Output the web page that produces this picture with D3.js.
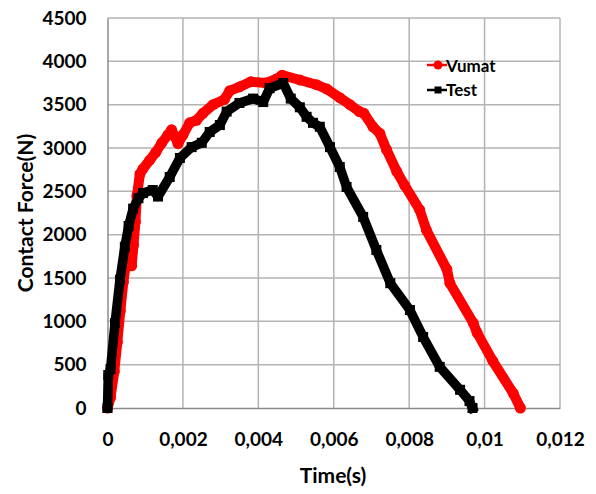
<!DOCTYPE html>
<html>
<head>
<meta charset="utf-8">
<script src="https://cdn.jsdelivr.net/npm/d3@7"></script>
<style>
  body { margin: 0; background: #fff; }
  text { font-family: Lato, "Open Sans", sans-serif; font-weight: bold; fill: #000; }
</style>
</head>
<body>
<svg width="596" height="494"></svg>
<script>
// tick values
var xTicks = [0, 0.002, 0.004, 0.006, 0.008, 0.01, 0.012];
var xTickLabels = ["0", "0,002", "0,004", "0,006", "0,008", "0,01", "0,012"];
var yTicks = [0, 500, 1000, 1500, 2000, 2500, 3000, 3500, 4000, 4500];

// Vumat series (time s, force N)
var vumatTime = [0, 0.00008, 0.00018, 0.00026, 0.00034, 0.00042, 0.0005, 0.00058, 0.00064, 0.00069,
  0.00074, 0.00078, 0.00086, 0.00094, 0.00112, 0.00128, 0.00144, 0.0016, 0.0017, 0.00187,
  0.002, 0.00218, 0.00236, 0.00253, 0.0028, 0.0031, 0.00324, 0.0035, 0.0038, 0.0042,
  0.00445, 0.00463, 0.0051, 0.00554, 0.00582, 0.00616, 0.00643, 0.00668, 0.0068, 0.00704,
  0.00722, 0.0074, 0.00767, 0.00788, 0.00828, 0.00846, 0.009, 0.00908, 0.0097, 0.0098,
  0.01022, 0.01076, 0.01095];
var vumatForce = [0, 120, 420, 760, 1120, 1450, 1700, 1680, 1640, 1880,
  2150, 2450, 2700, 2760, 2860, 2950, 3060, 3150, 3210, 3050,
  3150, 3290, 3320, 3400, 3500, 3560, 3660, 3705, 3765, 3750,
  3790, 3840, 3785, 3730, 3680, 3580, 3500, 3420, 3400, 3245,
  3170, 2980, 2730, 2570, 2285, 2050, 1600, 1440, 980, 870,
  540, 170, 0];

// Test series (time s, force N)
var testTime = [0, 0.00002, 0.00008, 0.0002, 0.00033, 0.00046, 0.00056, 0.00068, 0.00082, 0.00094, 0.0012,
  0.00134, 0.00165, 0.00192, 0.00223, 0.0025, 0.00271, 0.00298, 0.00316, 0.0035, 0.00386,
  0.00413, 0.0043, 0.00466, 0.00486, 0.0051, 0.00528, 0.00545, 0.00563, 0.0059, 0.00616,
  0.00634, 0.00678, 0.00713, 0.0075, 0.00802, 0.00837, 0.00881, 0.00935, 0.0096, 0.00968];
var testForce = [0, 380, 450, 980, 1480, 1860, 2100, 2300, 2420, 2480, 2515,
  2440, 2665, 2885, 3010, 3060, 3185, 3265, 3420, 3520, 3570,
  3530, 3690, 3750, 3570, 3470, 3360, 3290, 3245, 3010, 2780,
  2550, 2205, 1823, 1440, 1130, 820, 475, 210, 80, 0];

var svg = d3.select("svg");
var margin = {left: 107.5, right: 36, top: 18, bottom: 86};
var width = 596, height = 494;

var x = d3.scaleLinear().domain([0, 0.012]).range([margin.left, width - margin.right]);
var y = d3.scaleLinear().domain([0, 4500]).range([height - margin.bottom, margin.top]);

// gridlines
svg.append("g").selectAll("line.h")
  .data(yTicks.slice(1)).enter().append("line")
  .attr("x1", x(0)).attr("x2", x(0.012))
  .attr("y1", function (d) { return y(d); }).attr("y2", function (d) { return y(d); })
  .attr("stroke", "#b3b3b3").attr("stroke-width", 1.5);
svg.append("g").selectAll("line.v")
  .data(xTicks.slice(1)).enter().append("line")
  .attr("y1", y(0)).attr("y2", y(4500))
  .attr("x1", function (d) { return x(d); }).attr("x2", function (d) { return x(d); })
  .attr("stroke", "#b3b3b3").attr("stroke-width", 1.5);

// axes
var xAxis = svg.append("g").attr("transform", "translate(0," + y(0) + ")")
  .call(d3.axisBottom(x).tickValues(xTicks).tickSize(0).tickPadding(25)
    .tickFormat(function (d, i) { return xTickLabels[i]; }));
var yAxis = svg.append("g").attr("transform", "translate(" + x(0) + ",0)")
  .call(d3.axisLeft(y).tickValues(yTicks).tickSize(0).tickPadding(21).tickFormat(d3.format("d")));
[xAxis, yAxis].forEach(function (a) {
  a.select(".domain").attr("stroke", "#8c8c8c").attr("stroke-width", 1.5);
  a.selectAll("text").attr("font-size", 19).attr("font-family", null);
});

// axis titles
svg.append("text").attr("x", 333).attr("y", 483).attr("text-anchor", "middle")
  .attr("font-size", 21).text("Time(s)");
svg.append("text").attr("transform", "translate(33,213) rotate(-90)").attr("text-anchor", "middle")
  .attr("font-size", 21).text("Contact Force(N)");

var line = d3.line().x(function (d) { return x(d[0]); }).y(function (d) { return y(d[1]); });
var vumat = d3.zip(vumatTime, vumatForce);
var test = d3.zip(testTime, testForce);

// Vumat (red, round markers)
svg.append("path").datum(vumat).attr("d", line)
  .attr("fill", "none").attr("stroke", "#ff0000").attr("stroke-width", 10)
  .attr("stroke-linejoin", "round").attr("stroke-linecap", "round");
svg.append("g").selectAll("circle").data(vumat).enter().append("circle")
  .attr("cx", function (d) { return x(d[0]); }).attr("cy", function (d) { return y(d[1]); })
  .attr("r", 5.5).attr("fill", "#ff0000");

// Test (black, square markers)
svg.append("path").datum(test).attr("d", line)
  .attr("fill", "none").attr("stroke", "#000").attr("stroke-width", 9.5)
  .attr("stroke-linejoin", "round").attr("stroke-linecap", "square");
svg.append("g").selectAll("rect").data(test).enter().append("rect")
  .attr("x", function (d) { return x(d[0]) - 5; }).attr("y", function (d) { return y(d[1]) - 5; })
  .attr("width", 10).attr("height", 10).attr("fill", "#000");

// legend
var legend = svg.append("g");
legend.append("line").attr("x1", 427).attr("x2", 447).attr("y1", 65).attr("y2", 65)
  .attr("stroke", "#ff0000").attr("stroke-width", 2.5);
legend.append("circle").attr("cx", 438).attr("cy", 65).attr("r", 4.5).attr("fill", "#ff0000");
legend.append("text").attr("x", 446).attr("y", 72).attr("font-size", 17).text("Vumat");
legend.append("line").attr("x1", 427).attr("x2", 447).attr("y1", 90).attr("y2", 90)
  .attr("stroke", "#000").attr("stroke-width", 2.5);
legend.append("rect").attr("x", 434.5).attr("y", 86.5).attr("width", 7).attr("height", 7).attr("fill", "#000");
legend.append("text").attr("x", 446).attr("y", 96).attr("font-size", 17).text("Test");
</script>
</body>
</html>
